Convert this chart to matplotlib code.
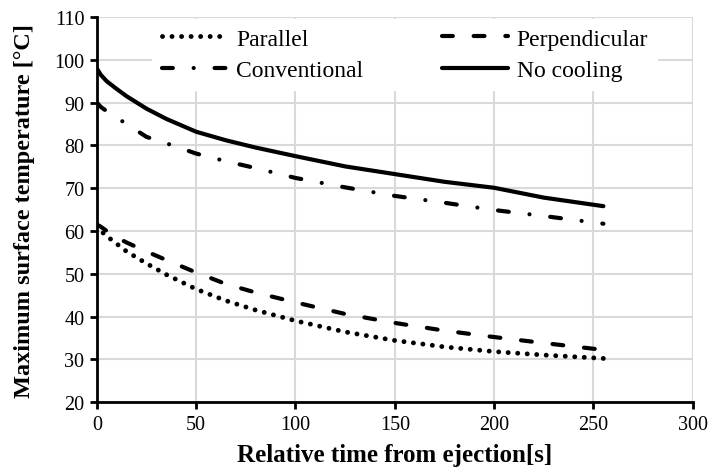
import matplotlib.pyplot as plt

# Data
time_s = [0, 2, 5, 10, 15, 25, 35, 50, 65, 80, 100, 125, 150, 175, 200, 225, 255]
parallel = [61.2, 60.0, 58.8, 57.0, 55.2, 52.4, 49.8, 46.4, 43.7, 41.5, 39.0, 36.4, 34.4, 32.9, 31.8, 31.0, 30.2]
perpendicular = [61.5, 61.0, 60.0, 58.5, 57.3, 55.2, 53.2, 50.3, 47.6, 45.6, 43.3, 40.6, 38.5, 36.7, 35.2, 33.8, 32.2]
conventional = [90.0, 89.0, 88.0, 86.5, 85.0, 82.0, 80.5, 78.1, 76.3, 74.7, 72.4, 70.2, 68.2, 66.6, 64.9, 63.5, 61.7]
no_cooling = [98.0, 96.5, 95.0, 93.2, 91.5, 88.6, 86.2, 83.2, 81.2, 79.5, 77.5, 75.1, 73.3, 71.5, 70.1, 67.8, 65.8]

x_ticks = [0, 50, 100, 150, 200, 250, 300]
y_ticks = [20, 30, 40, 50, 60, 70, 80, 90, 100, 110]

plt.rcParams['font.family'] = 'Liberation Serif'

fig = plt.figure(figsize=(7.12, 4.77), dpi=100)
ax = fig.add_axes([0.136, 0.155, 0.837, 0.807])

ax.plot(time_s, parallel, color='black', lw=3.5, linestyle=(0, (0.01, 1.95)),
        dash_capstyle='round', label='Parallel')
ax.plot(time_s, conventional, color='black', lw=3, linestyle=(0, (2.6, 5, 0.01, 5)),
        dash_capstyle='round', label='Conventional')
ax.plot(time_s, perpendicular, color='black', lw=3, linestyle=(0, (2.6, 5)),
        dash_capstyle='round', label='Perpendicular')
ax.plot(time_s, no_cooling, color='black', lw=3, solid_capstyle='round', label='No cooling')

ax.set_xlim(0, 300)
ax.set_ylim(20, 110)
ax.set_xticks(x_ticks)
ax.set_yticks(y_ticks)
ax.grid(True, color='#d9d9d9', lw=1.5)
ax.set_axisbelow(True)

for side in ['top', 'right']:
    ax.spines[side].set_visible(False)
for side in ['left', 'bottom']:
    ax.spines[side].set_linewidth(2)
ax.tick_params(width=2, length=5, labelsize=14.5, pad=4)

ax.set_xlabel('Relative time from ejection[s]', fontsize=18, fontweight='bold', labelpad=7)
ax.set_ylabel('Maximum surface temperature [°C]', fontsize=17.5, fontweight='bold', labelpad=14)

leg = ax.legend(ncol=2, loc='upper left', bbox_to_anchor=(0.073, 1.027), fontsize=17,
                frameon=True, facecolor='white', edgecolor='white', framealpha=1,
                fancybox=False, handlelength=2.8, handletextpad=0.35,
                columnspacing=3.35, labelspacing=0.42)

fig.savefig('out.png', dpi=100)
